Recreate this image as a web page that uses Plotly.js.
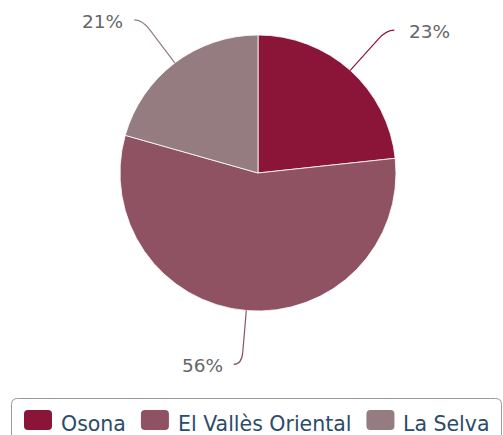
<!DOCTYPE html>
<html>
<head>
<meta charset="utf-8">
<script src="https://cdn.plot.ly/plotly-3.0.1.min.js"></script>
<style>html,body{margin:0;padding:0;background:#fff;}#chart{width:503px;height:435px;}</style>
</head>
<body>
<div id="chart"></div>
<script>
// Data
var categories = ["Osona", "El Vallès Oriental", "La Selva"];
var values = [23.3, 56.1, 20.6];
var colors = ["#8b1538", "#8e5262", "#947c80"];

var W = 503, H = 435;
var cx = 258, cy = 173, r = 138;
function px(x){ return x / W; }
function py(y){ return 1 - y / H; }

var trace = {
  type: "pie",
  labels: categories,
  values: values,
  sort: false,
  direction: "clockwise",
  rotation: 0,
  textinfo: "none",
  hoverinfo: "none",
  showlegend: false,
  marker: { colors: colors, line: { color: "rgba(255,255,255,0.8)", width: 1 } },
  domain: { x: [px(cx - r), px(cx + r)], y: [py(cy + r), py(cy - r)] }
};

var shapes = [];
var annotations = [];

// Labels with soft connectors, computed from the data
var total = values.reduce(function(a, b){ return a + b; }, 0);
var cum = 0;
var R = 192;
for (var i = 0; i < values.length; i++) {
  var mid = (cum + values[i] / 2) / total * 2 * Math.PI;
  cum += values[i];
  var s = Math.sin(mid), c = Math.cos(mid);
  var ex = cx + r * s, ey = cy - r * c;
  var kx = cx + R * s, ky = cy - R * c;
  var right = s >= 0;
  var endx = kx + (right ? 8 : -8), endy = ky;
  var dx = kx - ex, dy = ky - ey, len = Math.sqrt(dx * dx + dy * dy);
  var p1x = kx - dx / len * 12, p1y = ky - dy / len * 12;
  var path = "M" + px(ex) + "," + py(ey) + " L" + px(p1x) + "," + py(p1y) +
             " Q" + px(kx) + "," + py(ky) + " " + px(endx) + "," + py(endy);
  shapes.push({ type: "path", xref: "paper", yref: "paper", path: path,
    line: { color: colors[i], width: 1.2 } });
  var pct = Math.round(values[i] / total * 100) + "%";
  annotations.push({
    xref: "paper", yref: "paper",
    x: px(endx + (right ? 13 : -9)), y: py(endy + 1.5),
    xanchor: right ? "left" : "right", yanchor: "middle",
    text: pct, showarrow: false,
    font: { family: "DejaVu Sans", size: 18.5, color: "#666666" }
  });
}

// Custom legend (Highcharts-like), laid out from measured text widths
var FS = 20.5;
var ctx = document.createElement("canvas").getContext("2d");
ctx.font = FS + "px 'DejaVu Sans'";
var lx = 24, symW = 28, symH = 20, symTop = 410, rad = 4;
function rrect(x0, y0, x1, y1, rr) {
  function P(x, y){ return px(x) + "," + py(y); }
  return "M" + P(x0 + rr, y0) + " L" + P(x1 - rr, y0) + " Q" + P(x1, y0) + " " + P(x1, y0 + rr) +
         " L" + P(x1, y1 - rr) + " Q" + P(x1, y1) + " " + P(x1 - rr, y1) +
         " L" + P(x0 + rr, y1) + " Q" + P(x0, y1) + " " + P(x0, y1 - rr) +
         " L" + P(x0, y0 + rr) + " Q" + P(x0, y0) + " " + P(x0 + rr, y0) + " Z";
}
shapes.push({ type: "path", xref: "paper", yref: "paper", layer: "below",
  path: rrect(11.5, 398.5, 501.5, 450, 6), line: { color: "#999999", width: 1 }, fillcolor: "rgba(0,0,0,0)" });
for (var j = 0; j < categories.length; j++) {
  shapes.push({ type: "path", xref: "paper", yref: "paper",
    path: rrect(lx, symTop, lx + symW, symTop + symH, rad),
    fillcolor: colors[j], line: { width: 0 } });
  var tx = lx + symW + 9;
  annotations.push({
    xref: "paper", yref: "paper", x: px(tx), y: py(423.5),
    xanchor: "left", yanchor: "middle", text: categories[j], showarrow: false,
    xshift: -2,
    font: { family: "DejaVu Sans", size: FS, color: "#2b4b6b" }
  });
  lx = tx + ctx.measureText(categories[j]).width + 15;
}

var layout = {
  width: W, height: H,
  margin: { l: 0, r: 0, t: 0, b: 0, pad: 0 },
  paper_bgcolor: "#ffffff",
  plot_bgcolor: "#ffffff",
  showlegend: false,
  shapes: shapes,
  annotations: annotations
};

Plotly.newPlot("chart", [trace], layout, { displayModeBar: false, staticPlot: true });
</script>
</body>
</html>
